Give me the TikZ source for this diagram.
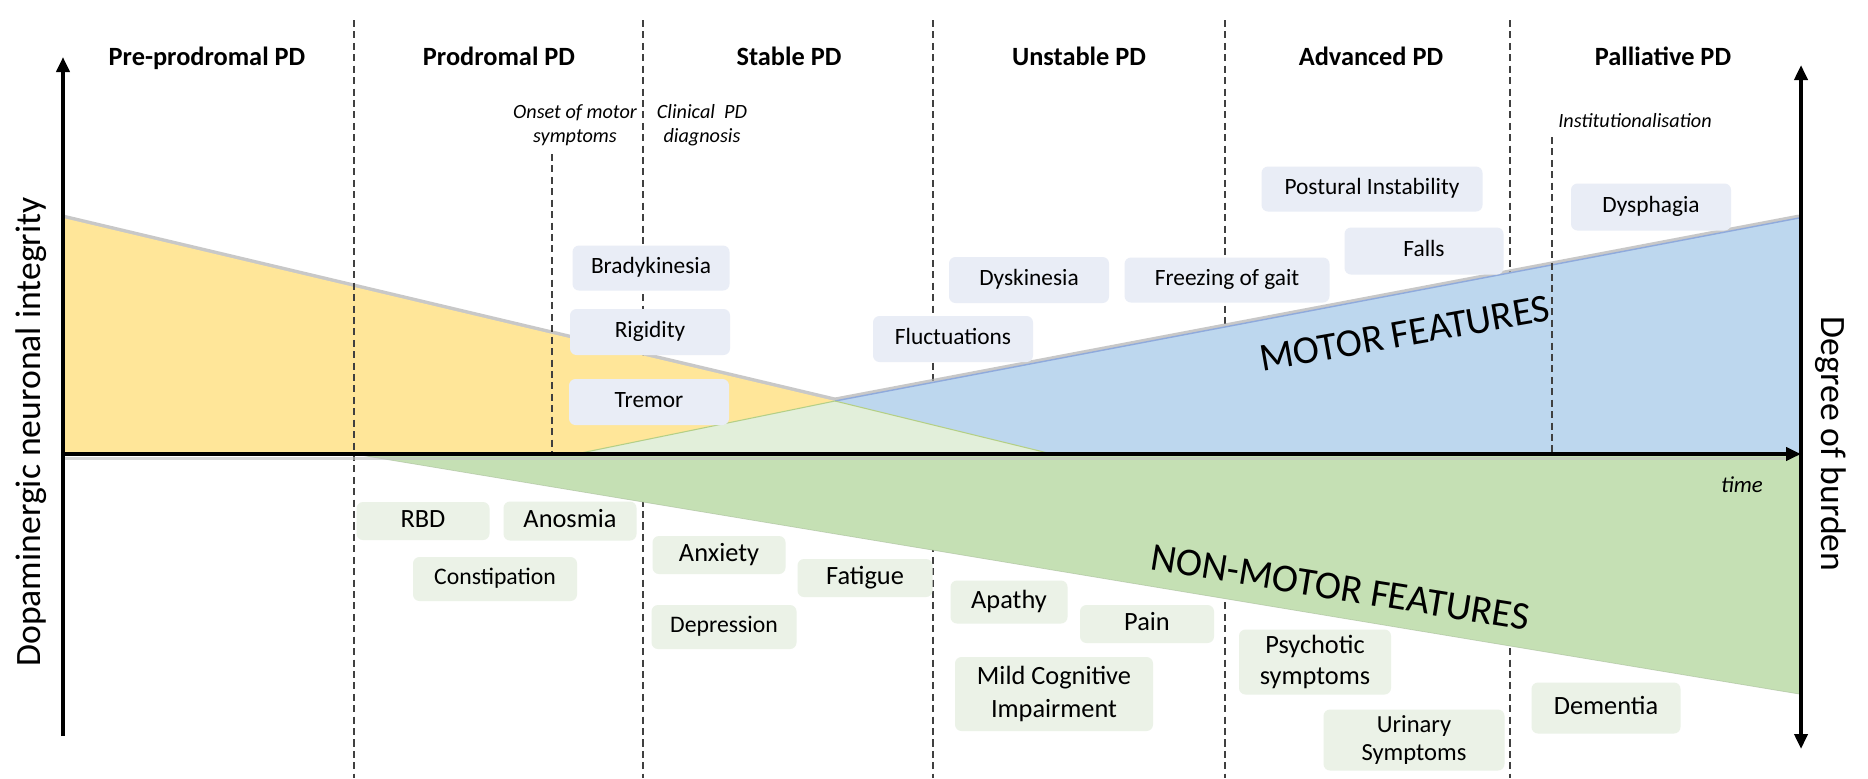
\documentclass[tikz,border=0pt]{standalone}
\usepackage{fontspec}
\setmainfont{Carlito}
\usetikzlibrary{arrows.meta}
\definecolor{yelF}{HTML}{FFE699}
\definecolor{bluF}{HTML}{BDD7EE}
\definecolor{bluL}{HTML}{8FAADC}
\definecolor{grnF}{HTML}{C5E0B4}
\definecolor{palG}{HTML}{E2EFDA}
\definecolor{edgG}{HTML}{B4CF86}
\definecolor{mBox}{HTML}{E9EDF6}
\definecolor{nBox}{HTML}{EBF2E7}
\begin{document}
\begin{tikzpicture}[x=0.02cm,y=-0.02cm,
  phase/.style={draw=black!75, line width=0.6pt, dash pattern=on 4pt off 2.5pt},
  box/.style n args={2}{minimum width=#1*0.02cm, minimum height=#2*0.02cm, rounded corners=0.13cm, inner sep=0pt, align=center},
  mot/.style={fill=mBox, font=\fontsize{13.3}{16}\selectfont, text height=8.8pt, text depth=2.4pt},
  nmo/.style={fill=nBox, font=\fontsize{15}{18}\selectfont, text height=9.9pt, text depth=2.7pt},
  nms/.style={fill=nBox, font=\fontsize{13.5}{16}\selectfont, text height=8.9pt, text depth=2.4pt},
  nm2/.style={fill=nBox},
  hdr/.style={font=\bfseries\fontsize{15}{18}\selectfont, anchor=base, inner sep=0pt},
  note/.style={font=\itshape\fontsize{11.5}{13.7}\selectfont, align=center, inner sep=0pt},
  bigl/.style={font=\fontsize{22.5}{27}\selectfont, inner sep=0pt},
  axl/.style={font=\fontsize{20.3}{24}\selectfont, inner sep=0pt},
  axis/.style={line width=0.08cm, black},
  tip/.style={-{Triangle[length=0.3cm,width=0.26cm]}}
]
\useasboundingbox[fill=white] (0,0) rectangle (1868,778);

% phase boundaries lying behind the coloured areas
\draw[phase] (643,20) -- (643,778);
\draw[phase] (933,20) -- (933,778);
\draw[phase] (1225,20) -- (1225,778);
\draw[phase] (1510,20) -- (1510,778);

% soft shadows along the top edges
\draw[black!30, line width=0.08cm, opacity=0.7] (63,216.5) -- (835,399.5);
\draw[black!30, line width=0.08cm, opacity=0.7] (835,399.5) -- (1799,216.5);

% coloured areas
\fill[grnF] (354,454) -- (1799,454) -- (1799,694) -- cycle;
\fill[yelF] (63,218) -- (835,401) -- (576,454) -- (63,454) -- cycle;
\fill[bluF] (835,401) -- (1799,218) -- (1799,454) -- (1052,454) -- cycle;
\fill[palG] (576,454) -- (835,401) -- (1052,454) -- cycle;
\draw[bluL, line width=0.8pt] (835,401) -- (1799,218);
\draw[edgG, line width=0.6pt] (576,454) -- (835,401) -- (1052,454);
\draw[grnF!80!black, line width=0.4pt, opacity=0.5] (354,454) -- (1799,694);

% dashed markers drawn over the areas
\draw[phase] (354,20) -- (354,778);
\draw[phase] (552,154) -- (552,454);
\draw[phase] (1552,137) -- (1552,454);

% motor feature boxes
\node[mot, box={157}{45}] (brady) at (651,268) {Bradykinesia};
\node[mot, box={160}{46}] (rigid) at (650,332) {Rigidity};
\node[mot, box={160}{46}] (tremor) at (649,402) {Tremor};
\node[mot, box={160}{46}] (fluct) at (953,339) {Fluctuations};
\node[mot, box={160}{46}] (dysk) at (1029,280) {Dyskinesia};
\node[mot, box={205}{45}] (freeze) at (1227,280) {Freezing of gait};
\node[mot, box={221}{45}] (postural) at (1372,189) {Postural Instability};
\node[mot, box={159}{47}] (falls) at (1424,251) {Falls};
\node[mot, box={160}{47}] (dysph) at (1651,207) {Dysphagia};

% non-motor feature boxes
\node[nmo, box={133}{38}] (rbd) at (423,521) {RBD};
\node[nmo, box={133}{39}] (anosmia) at (570,521) {Anosmia};
\node[nms, box={164}{44}] (constip) at (495,579) {Constipation};
\node[nmo, box={133}{38}] (anxiety) at (719,555) {Anxiety};
\node[nmo, box={135}{38}] (fatigue) at (865,578) {Fatigue};
\node[nms, box={145}{44}] (depress) at (724,627) {Depression};
\node[nmo, box={117}{43}] (apathy) at (1009,602) {Apathy};
\node[nmo, box={134}{38}] (pain) at (1147,624) {Pain};
\node[nm2, box={198}{74}, font=\fontsize{15}{19}\selectfont] (mci) at (1054,694) {Mild Cognitive\\Impairment};
\node[nm2, box={152}{65}, font=\fontsize{15}{18}\selectfont] (psych) at (1315,662) {Psychotic\\symptoms};
\node[nm2, box={181}{61}, font=\fontsize{14}{16}\selectfont] (urin) at (1414,740) {Urinary\\Symptoms};
\node[nmo, box={149}{51}] (dement) at (1606,708) {Dementia};

% axes
\coordinate (yb) at (63,736);
\coordinate (yt) at (63,57);
\coordinate (xo) at (61,454);
\coordinate (xe) at (1801,454);
\coordinate (rt) at (1801,65);
\coordinate (rb) at (1801,749);
\draw[black!25, line width=0.06cm, opacity=0.6] (63,458) -- (1790,458);
\draw[axis, tip] (yb) -- (yt);
\draw[axis, tip] (xo) -- (xe);
\draw[axis, {Triangle[length=0.3cm,width=0.26cm]}-{Triangle[length=0.3cm,width=0.26cm]}] (rt) -- (rb);

% stage headers
\node[hdr] (h1) at (207,65) {Pre-prodromal PD};
\node[hdr] (h2) at (499,65) {Prodromal PD};
\node[hdr] (h3) at (789,65) {Stable PD};
\node[hdr] (h4) at (1079,65) {Unstable PD};
\node[hdr] (h5) at (1371,65) {Advanced PD};
\node[hdr] (h6) at (1663,65) {Palliative PD};

% annotations
\node[note] (onset) at (575,125) {Onset of motor\\symptoms};
\node[note] (clin) at (702,125) {Clinical\ \ PD\\diagnosis};
\node[note, anchor=base] (inst) at (1635,127) {Institutionalisation};
\node[font=\itshape\fontsize{13}{15}\selectfont, anchor=base, inner sep=0pt] (time) at (1742,492) {time};

% feature labels
\node[bigl, rotate=10, anchor=base] (motor) at (1407,346) {MOTOR FEATURES};
\node[bigl, rotate=-9.2, anchor=base] (nonmotor) at (1338,600) {NON-MOTOR FEATURES};

% axis labels
\node[axl, rotate=90, anchor=base] (ylab) at (40,432) {Dopaminergic neuronal integrity};
\node[axl, rotate=-90, anchor=base] (rlab) at (1821,444) {Degree of burden};
\end{tikzpicture}
\end{document}
